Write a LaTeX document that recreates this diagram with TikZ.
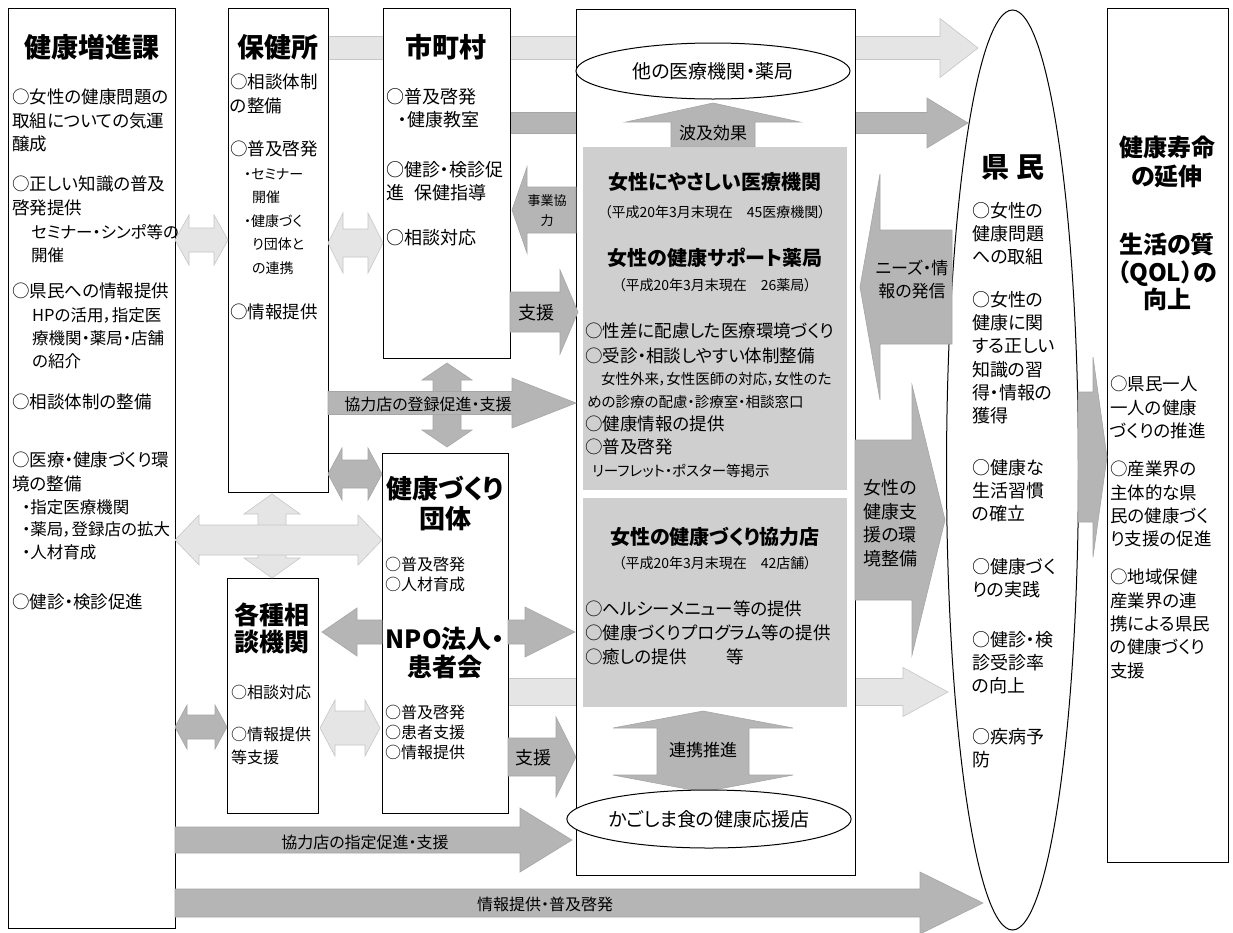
\documentclass[tikz,border=0pt]{standalone}
\usepackage{fontspec}
\setmainfont{Noto Sans CJK JP}[RawFeature=+palt]
\usetikzlibrary{shapes.geometric}
\newcommand\fsz[2]{\fontsize{#1}{#2}\selectfont}
% horizontal single arrow: style, x-start, x-tip, y, half shaft, half head, head length (negative for left)
\newcommand\bxR[7]{\path[#1] (#2,{#4-(#5)}) -- ({#3-(#7)},{#4-(#5)}) -- ({#3-(#7)},{#4-(#6)}) -- (#3,#4) -- ({#3-(#7)},{#4+(#6)}) -- ({#3-(#7)},{#4+(#5)}) -- (#2,{#4+(#5)}) -- cycle;}
% horizontal double arrow: style, x1, x2, y, h, H, L
\newcommand\bxD[7]{\path[#1] (#2,#4) -- ({#2+(#7)},{#4-(#6)}) -- ({#2+(#7)},{#4-(#5)}) -- ({#3-(#7)},{#4-(#5)}) -- ({#3-(#7)},{#4-(#6)}) -- (#3,#4) -- ({#3-(#7)},{#4+(#6)}) -- ({#3-(#7)},{#4+(#5)}) -- ({#2+(#7)},{#4+(#5)}) -- ({#2+(#7)},{#4+(#6)}) -- cycle;}
% vertical single arrow: style, x, y-start, y-tip, w, W, L (negative for up)
\newcommand\bxU[7]{\path[#1] ({#2-(#5)},#3) -- ({#2-(#5)},{#4-(#7)}) -- ({#2-(#6)},{#4-(#7)}) -- (#2,#4) -- ({#2+(#6)},{#4-(#7)}) -- ({#2+(#5)},{#4-(#7)}) -- ({#2+(#5)},#3) -- cycle;}
% vertical double arrow: style, x, y1, y2, w, W, L
\newcommand\bxV[7]{\path[#1] (#2,#3) -- ({#2+(#6)},{#3+(#7)}) -- ({#2+(#5)},{#3+(#7)}) -- ({#2+(#5)},{#4-(#7)}) -- ({#2+(#6)},{#4-(#7)}) -- (#2,#4) -- ({#2-(#6)},{#4-(#7)}) -- ({#2-(#5)},{#4-(#7)}) -- ({#2-(#5)},{#3+(#7)}) -- ({#2-(#6)},{#3+(#7)}) -- cycle;}
\begin{document}
\begin{tikzpicture}[x=1pt,y=-1pt,
  box/.style={draw=black, line width=1.1pt, fill=white, anchor=north west, inner sep=0},
  light/.style={fill=gray!20, draw=gray!45, line width=0.6pt},
  dark/.style={fill=gray!58, draw=gray!70, line width=0.6pt},
  gbox/.style={fill=gray!38, anchor=north west, inner sep=0},
  txt/.style={font=\fsz{18}{23.5}, align=left, anchor=north west, inner sep=0},
  ttl/.style={font=\fsz{27}{30}\bfseries, align=center, inner sep=0},
  atxt/.style={font=\fsz{16}{20}, inner sep=0},
  oval/.style={draw=black, line width=1pt, fill=white, ellipse, inner sep=0}]
\useasboundingbox (0,0) rectangle (1233,932);
\fill[white] (0,0) rectangle (1233,932);

% long arrows passing behind the boxes
\bxR{light}{328}{978}{48}{11.5}{29.5}{38}
\bxR{dark}{510}{968}{123}{10.5}{25}{41}
\bxR{light}{508}{948}{692}{13.5}{24.5}{45}

% boxes
\node[box, minimum width=167, minimum height=920] (kz) at (8,8) {};
\node[box, minimum width=100, minimum height=484] (hk) at (228,8) {};
\node[box, minimum width=127, minimum height=350] (sc) at (383,8) {};
\node[box, minimum width=126, minimum height=360] (kd) at (382,453) {};
\node[box, minimum width=91, minimum height=235] (ks) at (227,578) {};
\node[box, minimum width=279, minimum height=866] (cb) at (576,9) {};
\node[box, minimum width=121, minimum height=854] (rb) at (1107,8) {};

% Kenmin ellipse
\node[oval, minimum width=132, minimum height=920] (km) at (1012.5,470) {};

% centre contents
\node[oval, minimum width=274, minimum height=56, font=\fsz{19}{22}] (e1) at (713,71) {他の医療機関・薬局};
\bxU{dark}{713}{147}{103}{42}{87}{-19}
\node[atxt, font=\fsz{17}{20}] (hq) at (713,133) {波及効果};
\node[gbox, minimum width=264, minimum height=343] (g1) at (583,147) {};
\node[gbox, minimum width=264, minimum height=209] (g2) at (583,498) {};
\node[font=\fsz{20}{24}\bfseries, inner sep=0] (g1t) at (715,182) {女性にやさしい医療機関};
\node[font=\fsz{14}{16}, inner sep=0] (g1s) at (715,212) {（平成20年3月末現在　45医療機関）};
\node[font=\fsz{20}{24}\bfseries, inner sep=0] (g1u) at (715,258) {女性の健康サポート薬局};
\node[font=\fsz{14}{16}, inner sep=0] (g1v) at (715,285) {（平成20年3月末現在　26薬局）};
\node[txt, font=\fsz{17.5}{24.5}] (g1a) at (585,323) {○性差に配慮した医療環境づくり\\○受診・相談しやすい体制整備};
\node[txt, font=\fsz{14.5}{23}] (g1b) at (587,372) {\hspace*{14pt}女性外来，女性医師の対応，女性のた\\めの診療の配慮・診療室・相談窓口};
\node[txt, font=\fsz{17.5}{23}] (g1c) at (585,416) {○健康情報の提供\\○普及啓発};
\node[txt, font=\fsz{14.5}{23}] (g1d) at (592,464) {リーフレット・ポスター等掲示};
\node[font=\fsz{20}{24}\bfseries, inner sep=0] (g2t) at (715,537) {女性の健康づくり協力店};
\node[font=\fsz{14}{16}, inner sep=0] (g2s) at (715,563) {（平成20年3月末現在　42店舗）};
\node[txt, font=\fsz{17.5}{24}] (g2a) at (585,601) {○ヘルシーメニュー等の提供\\○健康づくりプログラム等の提供\\○癒しの提供\hspace*{40pt}等};
\bxV{dark}{703}{711}{792}{46}{90}{17}
\node[atxt, font=\fsz{17}{20}] (rk) at (703,750) {連携推進};
\node[oval, minimum width=278, minimum height=58, font=\fsz{19}{22}] (e2) at (709,819) {かごしま食の健康応援店};

% Kenko Zoshinka
\node[ttl] (kzt) at (91.5,47) {健康増進課};
\node[txt, font=\fsz{17.5}{23.5}] (kz1) at (12,89) {○女性の健康問題の\\取組についての気運\\醸成};
\node[txt, font=\fsz{17.5}{23.5}] (kz2) at (12,176) {○正しい知識の普及\\啓発提供};
\node[txt, font=\fsz{16.5}{23.5}] (kz2b) at (31,224) {セミナー・シンポ等の\\開催};
\node[txt, font=\fsz{17.5}{23.5}] (kz3) at (12,283) {○県民への情報提供};
\node[txt, font=\fsz{16.5}{23}] (kz3b) at (32,307) {HPの活用，指定医\\療機関・薬局・店舗\\の紹介};
\node[txt, font=\fsz{17.5}{23.5}] (kz4) at (12,394) {○相談体制の整備};
\node[txt, font=\fsz{17.5}{23.5}] (kz5) at (12,452) {○医療・健康づくり環\\境の整備};
\node[txt, font=\fsz{16.5}{22.7}] (kz5b) at (22,499) {・指定医療機関\\・薬局，登録店の拡大\\・人材育成};
\node[txt, font=\fsz{17.5}{23.5}] (kz6) at (12,594) {○健診・検診促進};

% Hokenjo
\node[ttl] (hkt) at (278,47) {保健所};
\node[txt, font=\fsz{17.5}{23.5}] (hk1) at (230,74) {○相談体制\\の整備};
\node[txt, font=\fsz{17.5}{23.5}] (hk2) at (230,141) {○普及啓発};
\node[txt, font=\fsz{14}{23.6}] (hk3) at (244,168) {・セミナー\\\hspace*{8pt}開催\\・健康づく\\\hspace*{8pt}り団体と\\\hspace*{8pt}の連携};
\node[txt, font=\fsz{17.5}{23.5}] (hk4) at (230,304) {○情報提供};

% Shichoson
\node[ttl] (sct) at (446,47) {市町村};
\node[txt] (sc1) at (386,88) {○普及啓発\\\hspace*{12pt}・健康教室};
\node[txt] (sc2) at (386,161) {○健診・検診促\\進\hspace*{10pt}保健指導};
\node[txt] (sc3) at (386,229) {○相談対応};

% Kenkozukuri dantai
\node[ttl, font=\fsz{26}{30}\bfseries] (kdt) at (445,503) {健康づくり\\団体};
\node[txt, font=\fsz{16}{20}] (kd1) at (385,557) {○普及啓発\\○人材育成};
\node[ttl, font=\fsz{25}{28}\bfseries] (kdn) at (445,653) {NPO法人・\\患者会};
\node[txt, font=\fsz{16}{20}] (kd2) at (385,705) {○普及啓発\\○患者支援\\○情報提供};

% Kakushu sodan kikan
\node[ttl, font=\fsz{25}{27}\bfseries] (kst) at (272,628) {各種相\\談機関};
\node[txt, font=\fsz{16}{23}] (ks1) at (231,685) {○相談対応};
\node[txt, font=\fsz{16}{23}] (ks2) at (231,727) {○情報提供\\等支援};

% Kenmin text
\node[font=\fsz{28}{30}\bfseries, inner sep=0] (kmt) at (1013,167) {県\hspace{8pt}民};
\node[txt, font=\fsz{18}{23.3}] (km1) at (972,202) {○女性の\\健康問題\\への取組};
\node[txt, font=\fsz{18}{23.3}] (km2) at (972,291) {○女性の\\健康に関\\する正しい\\知識の習\\得・情報の\\獲得};
\node[txt, font=\fsz{18}{23.3}] (km3) at (972,459) {○健康な\\生活習慣\\の確立};
\node[txt, font=\fsz{18}{23.3}] (km4) at (972,558) {○健康づく\\りの実践};
\node[txt, font=\fsz{18}{23.3}] (km5) at (972,631) {○健診・検\\診受診率\\の向上};
\node[txt, font=\fsz{18}{23.3}] (km6) at (972,728) {○疾病予\\防};

% right box text
\node[ttl, font=\fsz{24}{29}\bfseries] (rbt1) at (1167,162) {健康寿命\\の延伸};
\node[ttl, font=\fsz{24}{27.5}\bfseries] (rbt2) at (1167,272) {生活の質\\（QOL）の\\向上};
\node[txt, font=\fsz{17.5}{23.3}] (rb1) at (1110,376) {○県民一人\\一人の健康\\づくりの推進};
\node[txt, font=\fsz{17.5}{23.3}] (rb2) at (1110,461) {○産業界の\\主体的な県\\民の健康づく\\り支援の促進};
\node[txt, font=\fsz{17.5}{23.3}] (rb3) at (1110,569) {○地域保健\\産業界の連\\携による県民\\の健康づくり\\支援};

% arrows between boxes
\bxD{light}{175}{228}{240}{12}{25}{14}
\bxD{light}{328}{383}{243}{14}{30}{15}
\bxV{light}{272}{494}{578}{14}{28}{20}
\bxD{light}{175}{382}{540}{15}{25}{24}
\bxD{light}{320}{380}{728}{17}{28}{15}
\bxD{dark}{328}{382}{474}{14}{26}{14}
\bxD{dark}{175}{227}{727}{12}{22}{12}
\bxR{dark}{382}{322}{632}{12}{24}{-35}
\bxR{dark}{508}{575}{632}{12}{25}{50}

\bxR{dark}{508}{576}{757}{19}{40}{20}
\node[atxt, font=\fsz{18}{20}] (sen2) at (533,758) {支援};
\bxR{dark}{510}{578}{312}{20}{42}{18}
\node[atxt, font=\fsz{18}{20}] (sen1) at (536,313) {支援};
\bxR{dark}{576}{512}{210}{23}{43}{-15}
\node[atxt, font=\fsz{13}{20}, align=center] (jk) at (547,211) {事業協\\力};

\bxV{dark}{447}{363}{447}{14}{25}{17}
\bxR{dark}{328}{576}{403}{11.5}{25}{64}
\node[atxt] (tr) at (428,404) {協力店の登録促進・支援};

\bxR{dark}{175}{572}{840}{13}{32}{52}
\node[atxt] (sh) at (365,842) {協力店の指定促進・支援};
\bxR{dark}{175}{983}{903}{14}{31}{63}
\node[atxt] (jf) at (545,904) {情報提供・普及啓発};

\bxR{dark}{952}{860}{287}{57}{113}{-20}
\node[atxt, font=\fsz{17}{23}, align=center] (nz) at (912,279) {ニーズ・情\\報の発信};
\bxR{dark}{855}{945}{520}{80}{135}{33}
\node[atxt, font=\fsz{18}{23.5}, align=center] (ks) at (890,523) {女性の\\健康支\\援の環\\境整備};

\bxR{dark}{1078}{1107}{457}{65}{100}{14}
\end{tikzpicture}
\end{document}
